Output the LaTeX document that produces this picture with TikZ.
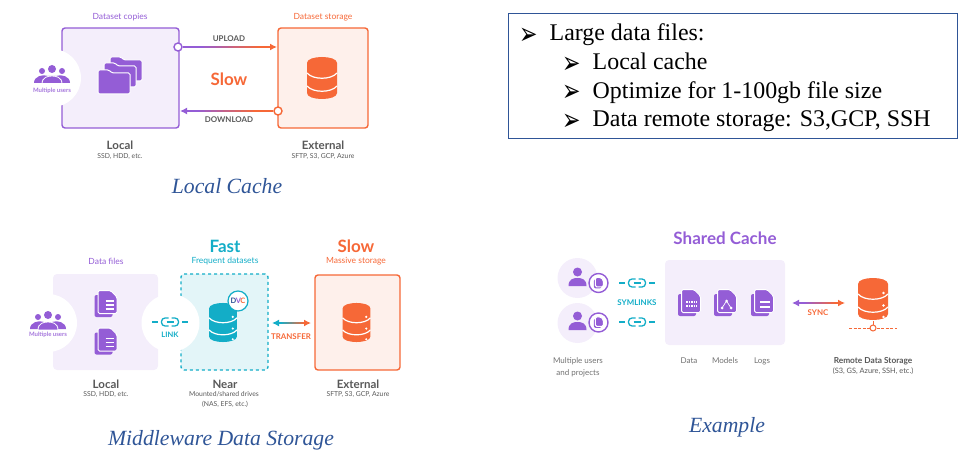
\documentclass[tikz,border=0pt]{standalone}
\usepackage{fontspec}
\usepackage{graphicx}
\setmainfont{Lato}
\newfontfamily\capfont{Liberation Serif}
\newfontfamily\tipfont{DejaVu Sans}
\usetikzlibrary{arrows.meta, calc}
\definecolor{dvcpurple}{RGB}{148, 93, 214}
\definecolor{dvcorange}{RGB}{246, 104, 55}
\definecolor{dvcteal}{RGB}{19, 173, 199}
\definecolor{palepurple}{RGB}{244, 238, 251}
\definecolor{paleorange}{RGB}{254, 240, 235}
\definecolor{paleteal}{RGB}{227, 245, 248}
\definecolor{inkgray}{RGB}{88, 88, 88}
\definecolor{capblue}{RGB}{47, 85, 151}
\newcommand{\fsz}[1]{\fontsize{#1}{#1}\selectfont}
\newcommand{\tallmark}{\scalebox{1}[1.4]{➢}}
\newcommand{\fadelink}[6]{%
  \draw[wire, #5, #1] (#3) -- ($(#3)!.5!(#4)$);
  \draw[wire, #6, #2] ($(#3)!.5!(#4)$) -- (#4);
  \foreach \k [evaluate=\k as \mixpc using int(100-\k*10)] in {0,...,9}
    \draw[wire, #5!\mixpc!#6] ($(#3)!{.2+.06*\k}!(#4)$) -- ($(#3)!{.2+.06*(\k+1)}!(#4)$);
}
\begin{document}
\begin{tikzpicture}[
  x=1pt, y=-1pt, >={Latex[length=7pt,width=7pt]},
  wire/.style={line width=1.8pt},
  solidbox/.style={rounded corners=3pt, line width=1.4pt, inner sep=0},
  softbox/.style={fill=palepurple, rounded corners=4pt, inner sep=0},
  cutout/.style={circle, fill=white, inner sep=0, minimum size=58pt},
  port/.style={circle, draw, fill=white, line width=1.4pt, inner sep=0, minimum size=8pt},
  tagname/.style={font=\fsz{8.5}, inner sep=0},
  sitename/.style={font=\fsz{11.5}\bfseries, text=inkgray, inner sep=0},
  sitenote/.style={font=\fsz{6.8}, text=inkgray, inner sep=0, align=center},
  bigword/.style={font=\fsz{17}\bfseries, inner sep=0},
  wirename/.style={font=\fsz{7.9}\bfseries, inner sep=0},
  usernote/.style={font=\fsz{6}\bfseries, text=dvcpurple!85, inner sep=0},
  plainnote/.style={font=\fsz{8}, text=inkgray!85, inner sep=0, align=center},
  capline/.style={font=\capfont\itshape\fsz{21.7}, text=capblue, inner sep=0},
  listline/.style={font=\capfont\fsz{23.9}, anchor=base west, inner sep=0},
  listtip/.style={font=\tipfont\fsz{22}, anchor=base west, inner sep=0},
  pics/dbstack/.style={code={
    \fill[#1] (-15,-15) .. controls (-15,-23) and (15,-23) .. (15,-15) -- (15,15)
      .. controls (15,23) and (-15,23) .. (-15,15) -- cycle;
    \draw[white, line width=1.2pt] (-15,-5) .. controls (-9,2) and (9,2) .. (15,-5);
    \draw[white, line width=1.2pt] (-15,8) .. controls (-9,15) and (9,15) .. (15,8);
  }},
  pics/dbdots/.style={code={
    \fill[white] (10.5,-6) circle[radius=1.3] (10.5,6.5) circle[radius=1.3] (10.5,18) circle[radius=1.3];
  }},
  pics/folderone/.style={code={
    \filldraw[draw=white, fill=dvcpurple, line width=1pt, rounded corners=1.5pt]
      (-16,-12) -- (-5,-12) -- (-2,-9) -- (16,-9) -- (16,12) -- (-16,12) -- cycle;
  }},
  pics/folderset/.style={code={
    \pic at (6,-7) {folderone};
    \pic at (0,-1) {folderone};
    \pic at (-6,6) {folderone};
  }},
  pics/docsheet/.style={code={
    \fill[dvcpurple, rounded corners=2pt] (-11,-9) rectangle (7,13);
    \filldraw[draw=white, fill=dvcpurple, line width=1pt, rounded corners=1.5pt]
      (-7.5,-13.5) -- (5,-13.5) -- (11.5,-7) -- (11.5,9.5) -- (-7.5,9.5) -- cycle;
  }},
  pics/doclines/.style={code={
    \pic {docsheet};
    \draw[white, line width=1.2pt] (0,-3) -- (8,-3) (0,1) -- (8,1) (0,5) -- (8,5);
  }},
  pics/docbars/.style={code={
    \pic {docsheet};
    \draw[white, line width=1.4pt] (-2,-1) -- (8,-1) (-2,4) -- (8,4);
  }},
  pics/docgrid/.style={code={
    \pic {docsheet};
    \draw[white, line width=1.2pt, dash pattern=on 1.5pt off 1pt] (-3,-1) -- (8,-1) (-3,3) -- (8,3);
  }},
  pics/docgraph/.style={code={
    \pic {docsheet};
    \draw[white, line width=.7pt] (-3,5) -- (1.5,-2) -- (6,5);
    \fill[white] (1.5,-2) circle[radius=1.5] (-3,5) circle[radius=1.5] (6,5) circle[radius=1.5];
  }},
  pics/usergroup/.style={code={
    \fill[dvcpurple] (-10,-3) circle[radius=3] (10,-3) circle[radius=3];
    \fill[dvcpurple] (-18,9) .. controls (-18,2) and (-9,0) .. (-4,2) -- (4,2)
      .. controls (9,0) and (18,2) .. (18,9) -- cycle;
    \filldraw[draw=white, fill=dvcpurple, line width=.8pt] (-10,10) .. controls (-10,3) and (-4,2) .. (0,2)
      .. controls (4,2) and (10,3) .. (10,10) -- cycle;
    \fill[dvcpurple] (0,-5) circle[radius=4];
    \draw[white, line width=1pt] (-19,10) -- (19,10);
  }},
  pics/chainlink/.style={code={
    \draw[dvcteal, line width=1.3pt, rounded corners=3.5pt] (-1.5,-4) -- (-8.5,-4) -- (-8.5,4) -- (-1.5,4);
    \draw[dvcteal, line width=1.3pt, rounded corners=3.5pt] (1.5,-4) -- (8.5,-4) -- (8.5,4) -- (1.5,4);
    \draw[dvcteal, line width=1.3pt] (-3.5,0) -- (3.5,0);
    \draw[dvcteal, line width=1.3pt] (-18,0) -- (-12,0) (12,0) -- (18,0);
  }},
  pics/lonevisitor/.style={code={
    \fill[dvcpurple] (0,-6) circle[radius=4.5];
    \fill[dvcpurple] (-9,8) .. controls (-9,1) and (-4,0) .. (0,0) .. controls (4,0) and (9,1) .. (9,8) -- cycle;
  }}
]
  \useasboundingbox (0,0) rectangle (965,462);

  \node[solidbox, draw=dvcpurple, fill=palepurple, minimum width=117pt, minimum height=100pt] (localbox) at (120.5,78) {};
  \node[cutout] (usersA) at (52,78) {};
  \node[solidbox, draw=dvcorange, fill=paleorange, minimum width=90pt, minimum height=100pt] (extbox) at (323,78) {};
  \node[tagname, text=dvcpurple] (copytag) at (120,17) {Dataset copies};
  \node[tagname, text=dvcorange] (storetag) at (323,17) {Dataset storage};
  \pic at (52,74) {usergroup};
  \node[usernote] (usersAnote) at (52,91) {Multiple users};
  \pic at (120,76) {folderset};
  \pic at (322,78) {dbstack=dvcorange};
  \node[port, draw=dvcpurple] (upstart) at (178,47) {};
  \coordinate (upend) at (277,47);
  \node[port, draw=dvcorange] (downstart) at (278,111) {};
  \coordinate (downend) at (180,111);
  \fadelink{-}{->}{upstart}{upend}{dvcpurple}{dvcorange}
  \fadelink{-}{->}{downstart}{downend}{dvcorange}{dvcpurple}
  \node[wirename, text=inkgray] (uptext) at (229,38.5) {UPLOAD};
  \node[wirename, text=inkgray] (downtext) at (229,119.5) {DOWNLOAD};
  \node[bigword, text=dvcorange] (slowA) at (229,79) {Slow};
  \node[sitename] (localA) at (120,145) {Local};
  \node[sitenote] (localAnote) at (120,156) {SSD, HDD, etc.};
  \node[sitename] (extA) at (323,145) {External};
  \node[sitenote] (extAnote) at (323,156) {SFTP, S3, GCP, Azure};
  \node[capline] (capA) at (227,186) {Local Cache};

  \node[draw=capblue, line width=.9pt, minimum width=449pt, minimum height=125pt, inner sep=0] (listbox) at (732.5,75.5) {};
  \node[listtip] (tipA) at (519,45) {\tallmark};
  \node[listline] (rowA) at (549.5,41) {Large data files:};
  \node[listtip] (tipB) at (562,74) {\tallmark};
  \node[listline] (rowB) at (592.5,70) {Local cache};
  \node[listtip] (tipC) at (562,102) {\tallmark};
  \node[listline] (rowC) at (592.5,98.5) {Optimize for 1-100gb file size};
  \node[listtip] (tipD) at (562,131) {\tallmark};
  \node[listline] (rowD) at (592.5,127) {Data remote storage: S3,GCP, SSH};

  \node[softbox, minimum width=105pt, minimum height=96pt] (filebox) at (105.5,322) {};
  \node[cutout] (usersB) at (48,323) {};
  \node[solidbox, draw=dvcteal, fill=paleteal, dashed, minimum width=87pt, minimum height=96pt] (nearbox) at (224.5,322) {};
  \node[cutout] (linkhole) at (170.5,323) {};
  \node[solidbox, draw=dvcorange, fill=paleorange, minimum width=85pt, minimum height=95pt] (extbig) at (357.5,322.5) {};
  \pic at (48,320) {usergroup};
  \node[usernote] (usersBnote) at (48,335) {Multiple users};
  \pic at (105.5,304) {doclines};
  \pic at (105.5,341.5) {doclines};
  \pic at (170,322) {chainlink};
  \node[wirename, font=\fsz{7.5}\bfseries, text=dvcteal] (linktext) at (170,334.5) {LINK};
  \pic[scale=.93] at (223,322.5) {dbstack=dvcteal};
  \pic[scale=.93] at (223,322.5) {dbdots};
  \node[circle, draw=dvcteal, fill=white, line width=1.2pt, minimum size=20pt, inner sep=0, font=\fsz{7.5}\bfseries] (dvcbadge) at (238,301)
    {\textcolor{capblue}{D}\kern-.5pt\textcolor{dvcpurple}{V}\kern-.5pt\textcolor{dvcorange}{C}};
  \pic[scale=.93] at (356.5,322.5) {dbstack=dvcorange};
  \pic[scale=.93] at (356.5,322.5) {dbdots};
  \coordinate (xferleft) at (272,323);
  \coordinate (xferright) at (311,323);
  \fadelink{<-}{->}{xferleft}{xferright}{dvcteal}{dvcorange}
  \node[wirename, text=dvcorange] (xfertext) at (291,337) {TRANSFER};
  \node[tagname, text=dvcpurple] (filetag) at (106,261) {Data files};
  \node[bigword, text=dvcteal] (fastword) at (225,246) {Fast};
  \node[tagname, text=dvcteal] (fasttag) at (225,261) {Frequent datasets};
  \node[bigword, text=dvcorange] (slowB) at (356,246) {Slow};
  \node[tagname, text=dvcorange] (slowtag) at (356,261) {Massive storage};
  \node[sitename] (localB) at (106,384) {Local};
  \node[sitenote] (localBnote) at (106,394) {SSD, HDD, etc.};
  \node[sitename] (nearname) at (225,384) {Near};
  \node[sitenote] (nearnoteA) at (224,394) {Mounted/shared drives};
  \node[sitenote] (nearnoteB) at (225,404) {(NAS, EFS, etc.)};
  \node[sitename] (extB) at (358,384) {External};
  \node[sitenote] (extBnote) at (358,394) {SFTP, S3, GCP, Azure};
  \node[capline] (capB) at (221,440) {Middleware Data Storage};

  \node[bigword, text=dvcpurple] (sharedtitle) at (725,238) {Shared Cache};
  \node[circle, fill=palepurple, minimum size=40pt, inner sep=0] (userone) at (577.5,278) {};
  \node[circle, fill=palepurple, minimum size=40pt, inner sep=0] (usertwo) at (577.5,323) {};
  \pic at (577.5,278) {lonevisitor};
  \pic at (577.5,322) {lonevisitor};
  \node[port, draw=dvcpurple, minimum size=19pt] (badgeone) at (598.5,283) {};
  \node[port, draw=dvcpurple, minimum size=19pt] (badgetwo) at (598.5,322.5) {};
  \pic[scale=.42] at (598.5,283) {docsheet};
  \pic[scale=.42] at (598.5,322.5) {docsheet};
  \pic at (637,283) {chainlink};
  \pic at (637,322) {chainlink};
  \node[wirename, text=dvcteal] (symtext) at (637,302.5) {SYMLINKS};
  \node[softbox, minimum width=120pt, minimum height=85pt] (cachebox) at (725,302.5) {};
  \pic at (689,303) {docgrid};
  \pic at (725,303) {docgraph};
  \pic at (762,303) {docbars};
  \coordinate (syncleft) at (792,303);
  \coordinate (syncright) at (845,303);
  \fadelink{<-}{->}{syncleft}{syncright}{dvcpurple}{dvcorange}
  \node[wirename, text=dvcorange] (synctext) at (818,312.5) {SYNC};
  \pic at (873,299) {dbstack=dvcorange};
  \pic at (873,299) {dbdots};
  \node[port, draw=dvcorange, line width=1pt, minimum size=6pt] (remoteport) at (873,328) {};
  \coordinate (dashleft) at (849,328);
  \coordinate (dashright) at (897,328);
  \draw[dvcorange, line width=1pt, dash pattern=on 3pt off 1.6pt] (dashleft) -- (remoteport);
  \draw[dvcorange, line width=1pt, dash pattern=on 3pt off 1.6pt] (remoteport) -- (dashright);
  \draw[dvcorange, line width=1pt] (873,321) -- (remoteport);
  \node[plainnote] (usertext) at (578,367) {Multiple users\\[4pt]and projects};
  \node[plainnote] (datatext) at (689,361) {Data};
  \node[plainnote] (modeltext) at (725,361) {Models};
  \node[plainnote] (logtext) at (762,361) {Logs};
  \node[wirename, font=\fsz{8.3}\bfseries, text=inkgray] (remotetext) at (873,361) {Remote Data Storage};
  \node[sitenote, font=\fsz{7.4}] (remotenote) at (873,371) {(S3, GS, Azure, SSH, etc.)};
  \node[capline] (capC) at (727,427) {Example};
\end{tikzpicture}
\end{document}
